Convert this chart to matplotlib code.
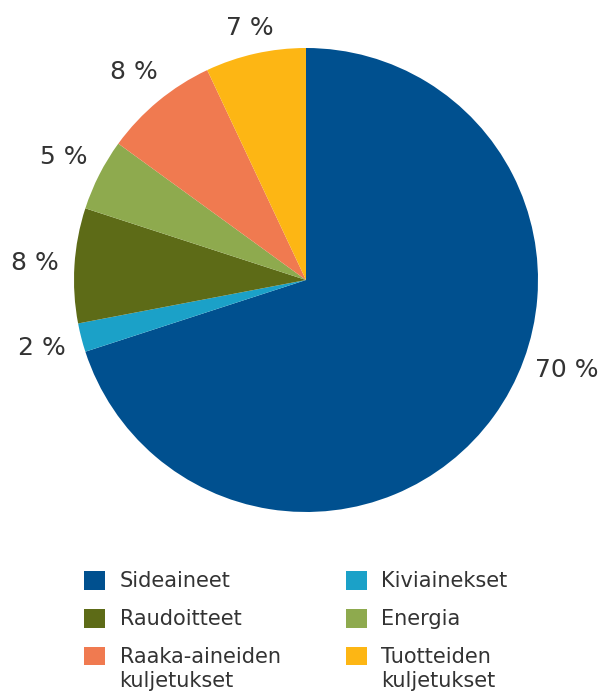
import matplotlib
matplotlib.use("Agg")
import matplotlib.pyplot as plt
import numpy as np
from matplotlib.patches import Patch

categories = ["Sideaineet", "Kiviainekset", "Raudoitteet", "Energia",
              "Raaka-aineiden\nkuljetukset", "Tuotteiden\nkuljetukset"]
values = [70, 2, 8, 5, 8, 7]
value_labels = ["70 %", "2 %", "8 %", "5 %", "8 %", "7 %"]
colors = ["#00508f", "#1ba1c8", "#5d6b17", "#8eaa4e", "#f07a50", "#fdb614"]

plt.rcParams['font.family'] = ['DejaVu Sans']
text_color = "#333333"

fig = plt.figure(figsize=(6.11, 6.92), dpi=100)
W, H = 611, 692
cx, cy, r = 306, 280, 232
ax = fig.add_axes([(cx - r) / W, (H - cy - r) / H, 2 * r / W, 2 * r / H])

wedges, texts = ax.pie(values, labels=value_labels, colors=colors, startangle=90,
                       counterclock=False, labeldistance=1.16, radius=1.0,
                       wedgeprops=dict(linewidth=0),
                       textprops=dict(fontsize=18, color=text_color))
dists = [1.19, 1.175, 1.17, 1.17, 1.165, 1.115]
for t, w, d in zip(texts, wedges, dists):
    t.set_ha("center")
    t.set_va("center")
    a = np.deg2rad((w.theta1 + w.theta2) / 2)
    t.set_position((d * np.cos(a), d * np.sin(a)))
# big slice label sits lower on the right side
ang = np.deg2rad(-19)
texts[0].set_position((1.19 * np.cos(ang), 1.19 * np.sin(ang)))
ax.set_xlim(-1, 1)
ax.set_ylim(-1, 1)
ax.set_aspect("equal")
ax.axis("off")

order = [0, 2, 4, 1, 3, 5]
handles = [Patch(facecolor=colors[i], edgecolor="none") for i in order]
labels = [categories[i] for i in order]
leg = fig.legend(handles, labels, ncol=2, loc="upper left",
                 bbox_to_anchor=(80 / W, 1 - 567 / H), frameon=False,
                 fontsize=15, handlelength=1.0, handleheight=1.0,
                 handletextpad=0.7, labelspacing=0.85, columnspacing=3.13,
                 borderaxespad=0, borderpad=0.2)
for t in leg.get_texts():
    t.set_color(text_color)
    t.set_linespacing(1.3)
for col in leg._legend_handle_box.get_children():
    for item in col.get_children():
        item.align = "top"

fig.savefig("out.png", dpi=100)
